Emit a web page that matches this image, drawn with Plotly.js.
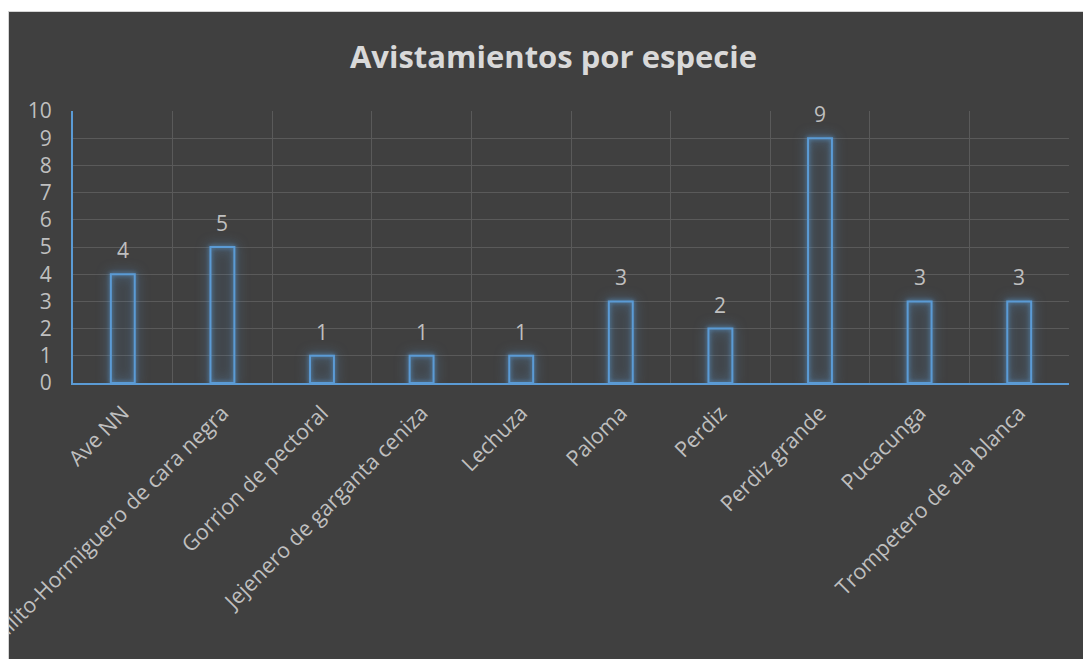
<!DOCTYPE html>
<html>
<head>
<meta charset="utf-8">
<script src="https://cdn.plot.ly/plotly-3.0.1.min.js"></script>
<style>
  html, body { margin: 0; padding: 0; background: #ffffff; }
  #chart { position: absolute; left: 8px; top: 11px; width: 1074px; height: 647px;
           border-left: 1px solid #d4d4d4; border-top: 1px solid #d4d4d4; }
  #chart .bars .point path { filter: drop-shadow(0 0 2px rgba(91,155,213,0.9)) drop-shadow(0 0 6px rgba(91,155,213,0.6)); }
</style>
</head>
<body>
<div id="chart"></div>
<script>
const categories = [
  "Ave NN",
  "Gallito-Hormiguero de cara negra",
  "Gorrion de pectoral",
  "Jejenero de garganta ceniza",
  "Lechuza",
  "Paloma",
  "Perdiz",
  "Perdiz grande",
  "Pucacunga",
  "Trompetero de ala blanca"
];
const sightings = [4, 5, 1, 1, 1, 3, 2, 9, 3, 3];
const yTicks = [0, 1, 2, 3, 4, 5, 6, 7, 8, 9, 10];

const textColor = "#bfbfbf";
const titleColor = "#d9d9d9";
const fontFamily = "'Open Sans', 'DejaVu Sans', sans-serif";

const trace = {
  type: "bar",
  x: categories,
  y: sightings,
  width: 0.24,
  marker: {
    color: "rgba(91,155,213,0.02)",
    line: { color: "#5b9bd5", width: 2 }
  },
  hoverinfo: "none"
};

const annotations = categories.map((c, i) => ({
  x: c,
  y: sightings[i],
  xref: "x",
  yref: "y",
  text: String(sightings[i]),
  showarrow: false,
  yanchor: "bottom",
  yshift: 8,
  font: { family: fontFamily, size: 21, color: textColor }
}));

const layout = {
  width: 1074,
  height: 647,
  paper_bgcolor: "#404040",
  plot_bgcolor: "#404040",
  margin: { l: 64, r: 14, t: 99, b: 276, pad: 0 },
  showlegend: false,
  title: {
    text: "<b>Avistamientos por especie</b>",
    font: { family: fontFamily, size: 31, color: titleColor },
    x: 0.507,
    xanchor: "center",
    y: 1 - 45 / 647,
    yanchor: "middle",
    yref: "container"
  },
  xaxis: {
    type: "category",
    range: [-0.5, 9.5],
    tickson: "boundaries",
    showgrid: true,
    gridcolor: "#5a5a5a",
    gridwidth: 1,
    showline: true,
    linecolor: "#5b9bd5",
    linewidth: 2,
    ticks: "",
    tickangle: -45,
    ticklabelstandoff: 7,
    tickfont: { family: fontFamily, size: 21.5, color: textColor },
    automargin: false,
    fixedrange: true
  },
  yaxis: {
    range: [0, 10],
    tickvals: yTicks,
    ticktext: yTicks.map(String),
    showgrid: true,
    gridcolor: "#5a5a5a",
    gridwidth: 1,
    zeroline: false,
    showline: true,
    linecolor: "#5b9bd5",
    linewidth: 2,
    ticks: "",
    ticklabelstandoff: 15,
    tickfont: { family: fontFamily, size: 21, color: textColor },
    automargin: false,
    fixedrange: true
  },
  annotations: annotations
};

Plotly.newPlot("chart", [trace], layout, { displayModeBar: false, staticPlot: true });
</script>
</body>
</html>
